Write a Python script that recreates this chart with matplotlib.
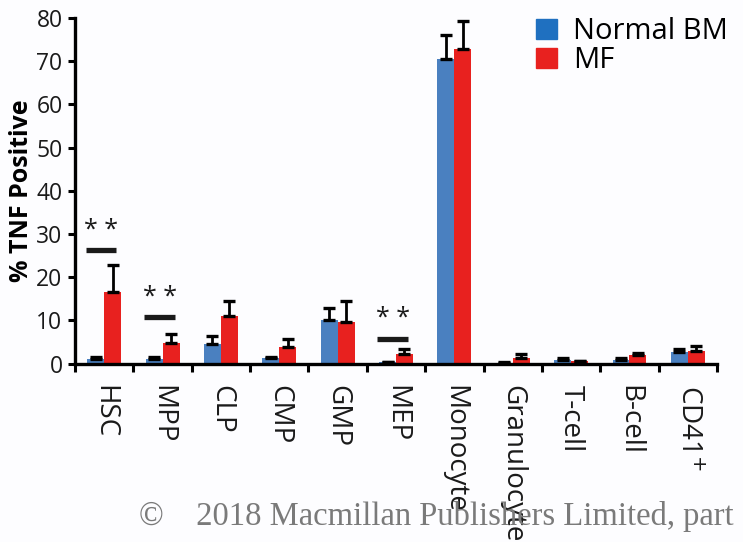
import matplotlib
matplotlib.use("Agg")
import matplotlib.pyplot as plt
from matplotlib.patches import Patch
import numpy as np

# Cell populations and % TNF positive (mean, upper error)
populations = ["HSC", "MPP", "CLP", "CMP", "GMP", "MEP", "Monocyte",
               "Granulocyte", "T-cell", "B-cell", "CD41$^{+}$"]
normal_bm = [1.0, 1.0, 4.6, 1.2, 10.2, 0.3, 70.5, 0.2, 0.8, 0.8, 2.7]
normal_bm_err = [0.5, 0.5, 1.7, 0.4, 2.7, 0.2, 5.6, 0.2, 0.45, 0.45, 0.8]
mf = [16.5, 4.8, 11.1, 3.8, 9.7, 2.3, 72.7, 1.4, 0.6, 1.9, 2.95]
mf_err = [6.3, 2.1, 3.5, 2.0, 4.7, 1.0, 6.5, 0.85, 0.1, 0.65, 1.15]

# significance brackets: population index, bar height, star height
sig_idx = [0, 1, 5]
sig_line = [26.2, 10.7, 5.8]
sig_star = [27.9, 12.4, 7.5]

blue = "#4a80c0"
red = "#e8211f"

plt.rcParams["font.family"] = ["Open Sans", "DejaVu Sans"]

fig = plt.figure(figsize=(7.43, 5.42), dpi=100)
fig.patch.set_facecolor("#fdfdff")
ax = fig.add_axes([0.101, 0.329, 0.864, 0.638])
ax.set_facecolor("none")

x = np.arange(len(populations))
w = 0.29
err_kw = dict(ecolor="black", elinewidth=2.0, capsize=4, capthick=2.4)
ax.bar(x - w / 2, normal_bm, w, color=blue,
       yerr=[np.zeros(len(x)), normal_bm_err], error_kw=err_kw, zorder=2)
ax.bar(x + w / 2, mf, w, color=red,
       yerr=[np.zeros(len(x)), mf_err], error_kw=err_kw, zorder=2)

for i, yl, ys in zip(sig_idx, sig_line, sig_star):
    ax.plot([i - 0.32, i + 0.21], [yl, yl], color="#1a1a1a", lw=3.8,
            solid_capstyle="butt", zorder=3)
    ax.text(i - 0.05, ys, "* *", ha="center", va="bottom", fontsize=18,
            color="#1a1a1a")

ax.set_xlim(-0.5, len(populations) - 0.5)
ax.set_ylim(0, 80)
ax.set_yticks(np.arange(0, 81, 10))
ax.set_xticks(np.arange(-0.5, len(populations), 1.0))
ax.set_xticklabels([])
ax.set_xticks(x, minor=True)
ax.set_xticklabels(populations, minor=True, rotation=-90, va="top",
                   ha="center", fontsize=20, color="#1a1a1a")
ax.tick_params(axis="x", which="major", direction="out", length=6, width=2.2)
ax.tick_params(axis="x", which="minor", length=0, pad=15)
ax.tick_params(axis="y", direction="out", length=5, width=2.2, pad=4,
               labelsize=16.5, labelcolor="#1a1a1a")

for side in ["top", "right"]:
    ax.spines[side].set_visible(False)
for side in ["left", "bottom"]:
    ax.spines[side].set_linewidth(2.4)

ax.set_ylabel("% TNF Positive", fontsize=18, fontweight="bold", labelpad=2)

handles = [Patch(color="#1f70c0", label="Normal BM"),
           Patch(color=red, label="MF")]
ax.legend(handles=handles, loc="upper right", bbox_to_anchor=(1.035, 1.035),
          frameon=False, fontsize=21, handlelength=0.7, handleheight=0.7,
          handletextpad=0.55, labelspacing=0.0, borderaxespad=0)

fig.text(0.187, 0.048, "\u00a9    2018 Macmillan Publishers Limited, part of Springer Nature.",
         family="Liberation Serif", fontsize=23.5, color="#7a7a7a",
         ha="left", va="center", zorder=0)

fig.savefig("out.png", dpi=100, facecolor=fig.get_facecolor())
